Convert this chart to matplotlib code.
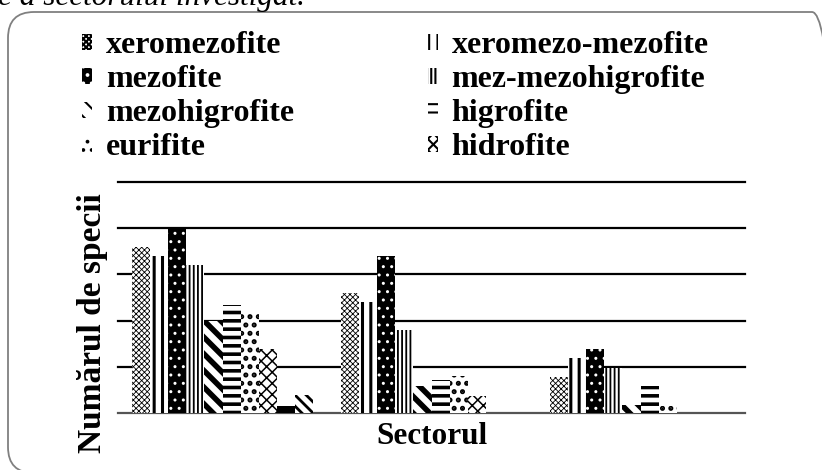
import matplotlib.pyplot as plt
import matplotlib.patches as mpatches
import matplotlib.transforms as mtransforms
import numpy as np

plt.rcParams['font.family'] = ['Liberation Serif', 'DejaVu Serif']
plt.rcParams['hatch.linewidth'] = 1.5

sectors = ['1', '2', '3']
groups = ['xeromezofite', 'xeromezo-mezofite', 'mezofite', 'mez-mezohigrofite',
          'mezohigrofite', 'higrofite', 'eurifite', 'hidrofite', '', '']
# valori citite pe grafic (o linie de grila = 5 specii)
sector1 = [18, 17, 20, 16, 10, 11.7, 11, 6.9, 0.8, 1.9]
sector2 = [13, 12, 17, 9, 2.9, 3.6, 4, 1.8, 0, 0]
sector3 = [3.9, 5.9, 6.9, 4.9, 0.9, 2.9, 0.8, 0, 0, 0]

# (fata, culoare hasura, hasura, grosime hasura)
styles = [
    ('white', 'black', 'xxxxxx', 0.6),
    ('white', 'black', '||', 2.2),
    ('black', 'white', '..', 1.0),
    ('white', 'black', '||||', 1.3),
    ('white', 'black', '\\\\', 4.0),
    ('white', 'black', '--', 2.6),
    ('white', 'black', '..', 2.4),
    ('white', 'black', 'xxx', 1.1),
    ('black', 'white', '.', 1.0),
    ('white', 'black', '\\\\\\', 2.0),
]

W, H = 822, 470
fig = plt.figure(figsize=(W / 100, H / 100), dpi=100)
ax = fig.add_axes([118 / W, 1 - 413 / H, (745 - 118) / W, (413 - 182) / H])

values = np.array([sector1, sector2, sector3]).T
x = np.arange(len(sectors))
w = 0.0866
bars = []
for i, vals in enumerate(values):
    fc, hc, hatch, hlw = styles[i]
    b = ax.bar(x + (i - 4.5) * w, vals, w, color=fc, edgecolor=hc, hatch=hatch,
               linewidth=0, zorder=3)
    for p in b:
        if hasattr(p, 'set_hatch_linewidth'):
            p.set_hatch_linewidth(hlw)
    bars.append(b)

ax.set_xlim(-0.5, 2.5)
ax.set_ylim(0, 25)
for yv in [5, 10, 15, 20, 25]:
    ax.axhline(yv, color='black', lw=1.6, zorder=1, clip_on=False)
for s in ['top', 'left', 'right']:
    ax.spines[s].set_visible(False)
ax.spines['bottom'].set_color('#555555')
ax.spines['bottom'].set_linewidth(1.6)
ax.set_xticks([])
ax.set_yticks([])

order = [0, 2, 4, 6, 1, 3, 5, 7]
ax.legend([bars[i] for i in order], [groups[i] for i in order], ncol=2,
          loc='upper left', bbox_to_anchor=(82 / W, 1 - 31 / H),
          bbox_transform=fig.transFigure, frameon=False,
          prop={'weight': 'bold', 'size': 23}, handlelength=0.32, handleheight=0.4,
          handletextpad=0.42, columnspacing=4.2, labelspacing=0.16,
          borderpad=0, borderaxespad=0)

fig.text(93 / W, 1 - 323 / H, 'Num\u0103rul de specii', rotation=90, ha='center',
         va='center', fontsize=24, fontweight='bold')
fig.text(431.5 / W, 1 - 437 / H, 'Sectorul', ha='center', va='center',
         fontsize=22.5, fontweight='bold')
fig.text(-0.002, 1 - 5 / H, 'e a sectorului investigat.', ha='left', va='baseline',
         fontsize=22.5, fontstyle='italic')

frame = mpatches.FancyBboxPatch((8, -3), 830, H - 12 + 3,
                                boxstyle='round,pad=0,rounding_size=26',
                                transform=mtransforms.IdentityTransform(),
                                facecolor='none', edgecolor='#808080', lw=1.3)
fig.patches.append(frame)

fig.savefig('out.png', dpi=100)
